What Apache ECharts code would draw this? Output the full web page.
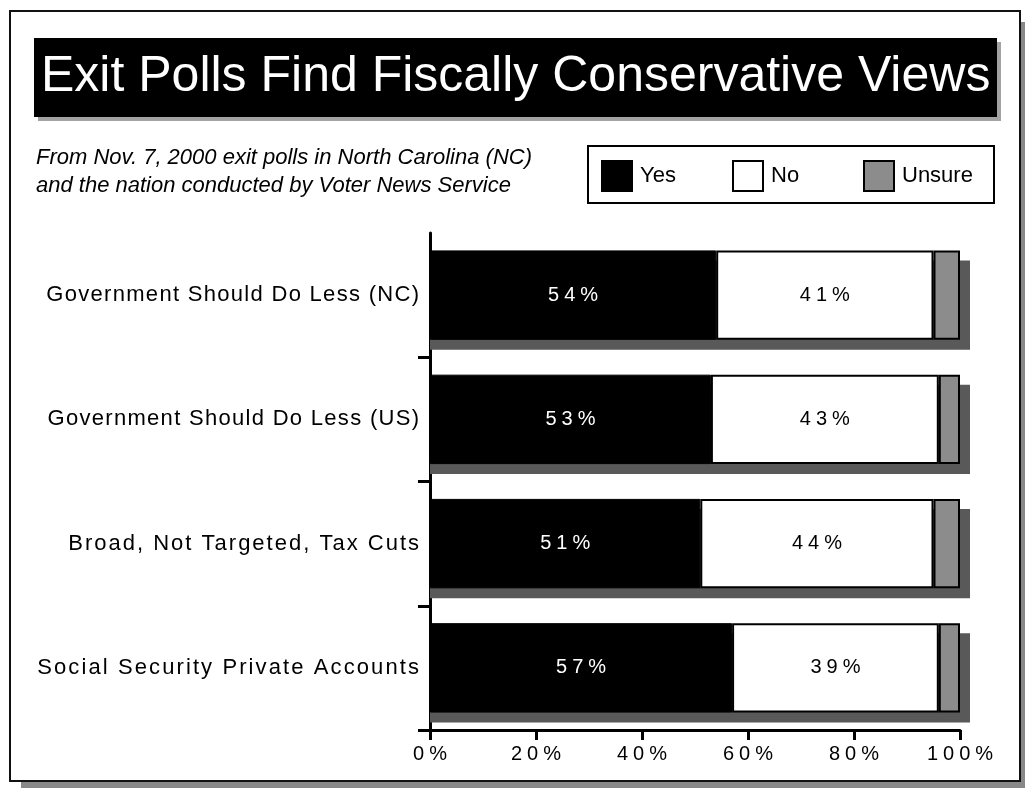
<!DOCTYPE html>
<html><head><meta charset="utf-8">
<script src="https://cdn.jsdelivr.net/npm/echarts@6/dist/echarts.min.js"></script>
<style>html,body{margin:0;padding:0;background:#fff}#c{width:1025px;height:788px}</style>
</head><body><div id="c"></div>
<script>
// ---------- data ----------
const categories = [
  'Government Should Do Less (NC)',
  'Government Should Do Less (US)',
  'Broad, Not Targeted, Tax Cuts',
  'Social Security Private Accounts'
];
const yesValues = [54, 53, 51, 57];
const noValues = [41, 43, 44, 39];
const unsureValues = [5, 4, 5, 4];
const seriesNames = ['Yes', 'No', 'Unsure'];
const titleText = 'Exit Polls Find Fiscally Conservative Views';
const subtitleText = 'From Nov. 7, 2000 exit polls in North Carolina (NC)\nand the nation conducted by Voter News Service';

// ---------- letter spacing helper (renders spaced text like the original) ----------
const FONT = "'Liberation Sans', Arial, sans-serif";
const labelSpacing = [1.3, 1.3, 2.0, 2.1];   // style: per-label tracking in px
function spacingFor(t) {
  if (/^\d+%$/.test(t)) return 5;
  const k = categories.indexOf(t);
  if (k >= 0) return labelSpacing[k];
  return 0;
}
(function () {
  const proto = CanvasRenderingContext2D.prototype;
  const orig = proto.fillText;
  proto.fillText = function (t, x, y) {
    const s = spacingFor(String(t));
    if (s && ('letterSpacing' in this)) {
      const f = this.font;
      this.save();
      this.letterSpacing = s + 'px';
      this.font = '10px serif';
      this.font = f;
      let dx = 0;
      if (this.textAlign === 'center') dx = s / 2;
      else if (this.textAlign === 'right' || this.textAlign === 'end') dx = s;
      const args = Array.prototype.slice.call(arguments);
      args[1] = x + dx;
      orig.apply(this, args);
      this.restore();
      this.letterSpacing = '0px';
      this.font = '10px serif';
      this.font = f;
      return;
    }
    return orig.apply(this, arguments);
  };
})();

const SHADOW_OFF = 10;
const BAR_RATIO = 0.72;

const chart = echarts.init(document.getElementById('c'), null, { renderer: 'canvas' });

const totals = categories.map((c, i) => [yesValues[i] + noValues[i] + unsureValues[i], i]);

const legendStyle = { color: '#000', fontSize: 22, fontFamily: FONT, padding: [0, 0, 0, 3] };

const option = {
  backgroundColor: '#fff',
  animation: false,
  graphic: [
    { type: 'rect', z: 0, z2: 0, shape: { x: 21, y: 22, width: 1010, height: 770 }, style: { fill: '#888' } },
    { type: 'rect', z: 0, z2: 1, shape: { x: 10, y: 11, width: 1010, height: 770 }, style: { fill: '#fff', stroke: '#111', lineWidth: 2 } },
    { type: 'rect', z: 0, z2: 2, shape: { x: 38, y: 42, width: 963, height: 79 }, style: { fill: '#a3a3a3' } },
    { type: 'rect', z: 0, z2: 3, shape: { x: 34, y: 38, width: 963, height: 79 }, style: { fill: '#000' } },
    { type: 'rect', z: 0, z2: 4, shape: { x: 588, y: 146, width: 406, height: 57 }, style: { fill: '#fff', stroke: '#000', lineWidth: 2 } }
  ],
  title: [
    {
      text: titleText,
      left: 41,
      top: 52,
      padding: 0,
      textStyle: { color: '#fff', fontSize: 50, fontWeight: 'normal', fontFamily: FONT }
    },
    {
      text: subtitleText,
      left: 36,
      top: 144,
      padding: 0,
      textStyle: { color: '#000', fontSize: 22, fontWeight: 'normal', fontStyle: 'italic',
        lineHeight: 28, fontFamily: FONT }
    }
  ],
  legend: seriesNames.map(function (n, i) {
    return {
      data: [n],
      left: 601 + i * 131,
      top: 160,
      padding: 0,
      itemWidth: 30,
      itemHeight: 30,
      icon: 'rect',
      textStyle: legendStyle
    };
  }),
  grid: { left: 430, right: 65, top: 233, bottom: 58, containLabel: false },
  xAxis: {
    type: 'value',
    min: 0,
    max: 100,
    interval: 20,
    axisLine: { show: true, lineStyle: { color: '#000', width: 3 } },
    axisTick: { show: true, length: 10, lineStyle: { color: '#000', width: 3 } },
    splitLine: { show: false },
    axisLabel: { formatter: '{value}%', color: '#000', fontSize: 20, margin: 14, fontFamily: FONT }
  },
  yAxis: {
    type: 'category',
    data: categories,
    inverse: true,
    axisLine: { show: true, lineStyle: { color: '#000', width: 3 } },
    axisTick: { show: true, length: 12, interval: function (idx) { return idx !== 0; },
      lineStyle: { color: '#000', width: 3 } },
    axisLabel: { color: '#000', fontSize: 22, margin: 11, fontFamily: FONT }
  },
  series: [
    {
      type: 'custom',
      name: 'shadow',
      z: 1,
      silent: true,
      encode: { x: 0, y: 1 },
      data: totals,
      renderItem: function (params, api) {
        const i = api.value(1);
        const p0 = api.coord([0, i]);
        const p1 = api.coord([api.value(0), i]);
        const h = api.size([0, 1])[1] * BAR_RATIO;
        return {
          type: 'rect',
          shape: { x: p0[0], y: p0[1] - h / 2 + SHADOW_OFF, width: p1[0] - p0[0] + SHADOW_OFF, height: h },
          style: { fill: '#595959' }
        };
      }
    },
    {
      name: 'Yes', type: 'bar', stack: 'total', z: 2, barWidth: (BAR_RATIO * 100) + '%',
      data: yesValues,
      itemStyle: { color: '#000', borderColor: '#000', borderWidth: 1 },
      label: { show: true, position: 'inside', formatter: '{c}%', color: '#fff', fontSize: 20, fontFamily: FONT }
    },
    {
      name: 'No', type: 'bar', stack: 'total', z: 2,
      data: noValues,
      itemStyle: { color: '#fff', borderColor: '#000', borderWidth: 2 },
      label: { show: true, position: 'inside', formatter: '{c}%', color: '#000', fontSize: 20, fontFamily: FONT }
    },
    {
      name: 'Unsure', type: 'bar', stack: 'total', z: 2,
      data: unsureValues,
      itemStyle: { color: '#8c8c8c', borderColor: '#000', borderWidth: 2 },
      label: { show: false }
    }
  ]
};
chart.setOption(option);
</script>
</body></html>
